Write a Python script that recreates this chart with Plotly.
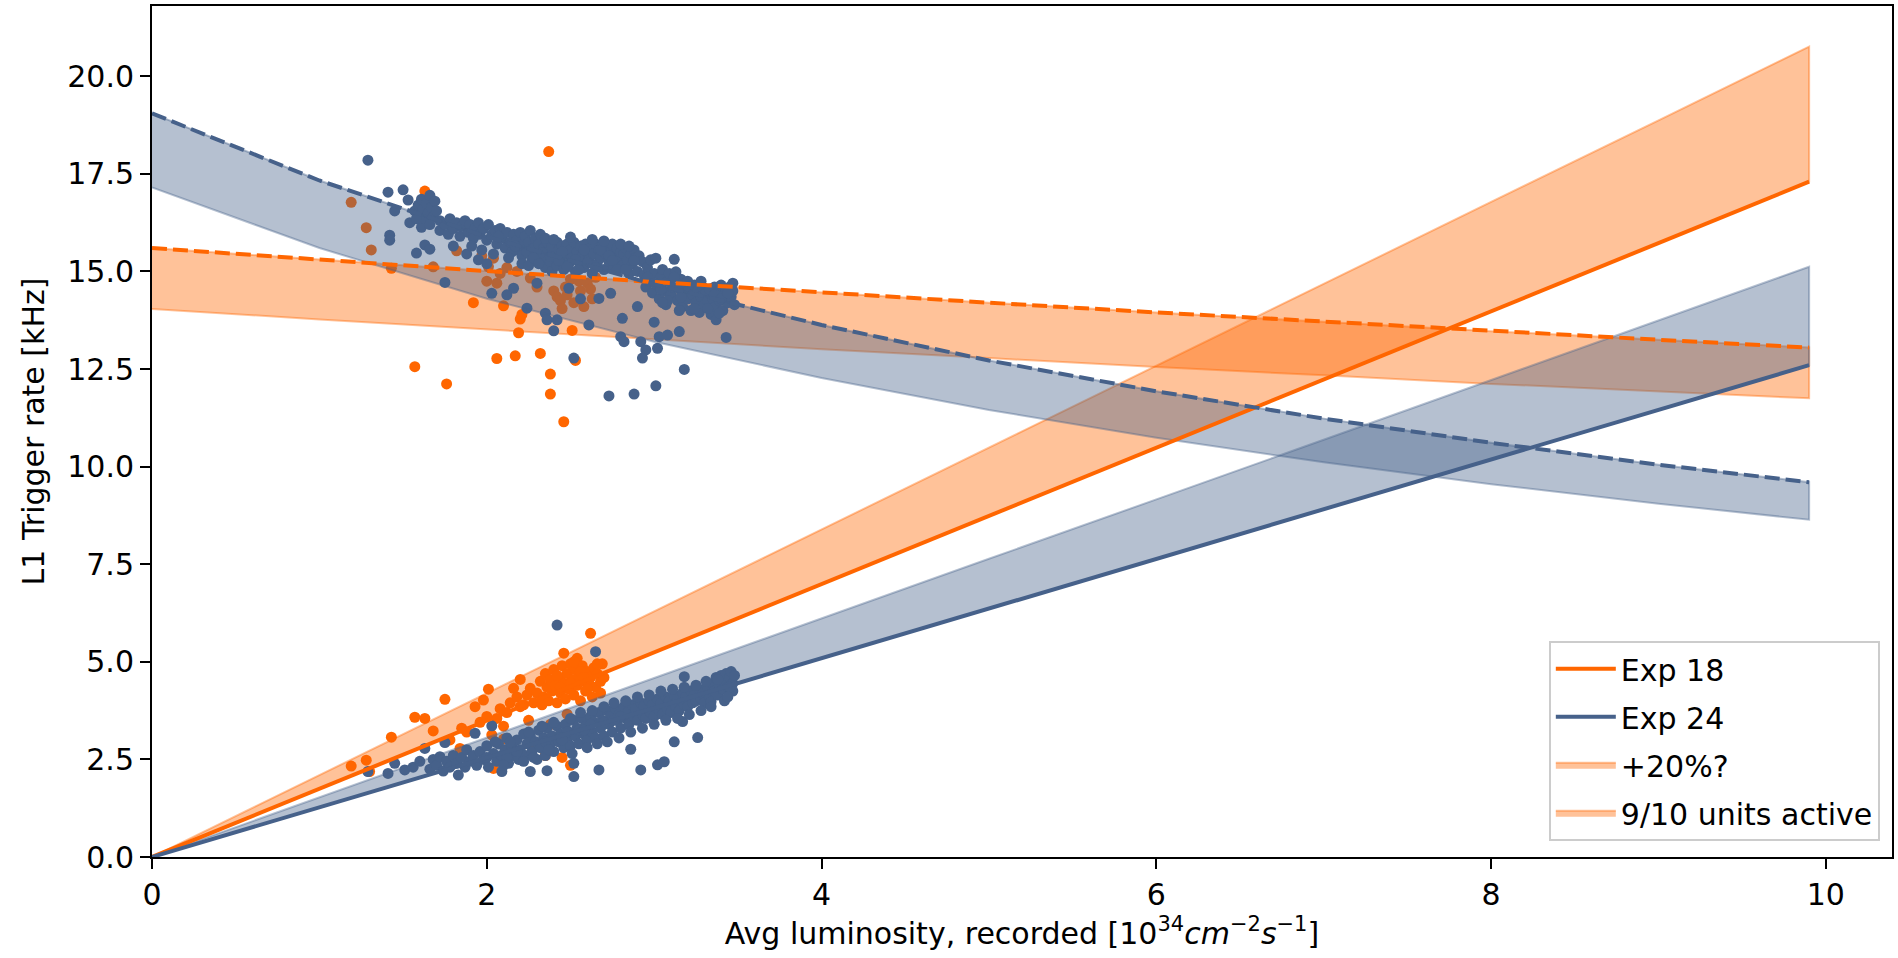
import plotly.graph_objects as go

# ---------------- data ----------------
ORANGE = "#FF6600"
BLUE = "#46618A"

# fitted curves (x in 1e34 cm^-2 s^-1, y in kHz)
fit_x = [0, 1, 2, 3, 4, 5, 6, 7, 8, 9, 9.9]
exp18_rate = [0, 1.75, 3.50, 5.24, 6.99, 8.74, 10.49, 12.23, 13.98, 15.73, 17.30]
exp18_rate_p20 = [0, 2.10, 4.19, 6.29, 8.39, 10.49, 12.58, 14.68, 16.78, 18.87, 20.76]
exp24_rate = [0, 1.27, 2.55, 3.82, 5.09, 6.36, 7.64, 8.91, 10.18, 11.45, 12.60]
exp24_rate_p20 = [0, 1.53, 3.05, 4.58, 6.11, 7.64, 9.16, 10.69, 12.22, 13.75, 15.12]
exp18_limit = [15.60, 15.30, 15.01, 14.73, 14.46, 14.20, 13.95, 13.71, 13.47, 13.25, 13.05]
exp18_limit_910 = [14.04, 13.77, 13.51, 13.26, 13.01, 12.78, 12.55, 12.34, 12.12, 11.92, 11.75]
exp24_limit = [19.05, 17.33, 15.89, 14.67, 13.63, 12.72, 11.93, 11.23, 10.61, 10.05, 9.60]
exp24_limit_910 = [17.15, 15.60, 14.30, 13.20, 12.27, 11.45, 10.74, 10.11, 9.55, 9.05, 8.64]

# measured runs, Exp 18 - upper (max rate) cloud
exp18_hi_x = [1.19, 1.28, 1.31, 1.43, 1.57, 1.63, 1.68, 1.76, 1.82, 1.92, 1.97, 2.01, 2.04, 2.00,
              2.06, 2.06, 2.08, 2.10, 2.12, 2.17, 2.18, 2.19, 2.20, 2.21, 2.26, 2.32, 2.37, 2.38,
              2.38, 2.40, 2.42, 2.44, 2.46, 2.47, 2.48, 2.50, 2.51, 2.52, 2.53, 2.55, 2.56, 2.60,
              2.62, 2.65, 2.58, 2.45, 2.30, 2.63]
exp18_hi_y = [16.77, 16.12, 15.55, 15.08, 12.56, 17.06, 15.12, 12.12, 15.53, 14.20, 15.40, 15.12, 15.34, 14.75,
              14.70, 12.77, 14.95, 14.12, 15.10, 12.84, 15.00, 13.43, 13.78, 13.90, 14.83, 12.90, 18.07, 12.37,
              11.86, 14.50, 14.35, 14.25, 11.15, 14.60, 14.40, 14.80, 13.49, 14.20, 12.72, 14.75, 14.50, 14.70,
              14.55, 14.85, 14.10, 14.05, 14.60, 14.30]

# Exp 18 - lower (measured L1 rate) cloud
exp18_lo_x = [1.19, 1.28, 1.30, 1.43, 1.57, 1.63, 1.68, 1.75, 1.78, 1.84, 1.85, 1.88, 1.93, 1.96, 1.98,
              2.00, 2.01, 2.03, 2.04, 2.06, 2.08, 2.10, 2.12, 2.14, 2.16, 2.18, 2.20, 2.20, 2.22, 2.24,
              2.26, 2.28, 2.30, 2.32, 2.33, 2.34, 2.35, 2.36, 2.37, 2.38, 2.39, 2.40, 2.41, 2.42, 2.43,
              2.44, 2.45, 2.46, 2.46, 2.47, 2.48, 2.48, 2.49, 2.50, 2.51, 2.52, 2.53, 2.54, 2.54, 2.55,
              2.56, 2.57, 2.58, 2.59, 2.60, 2.61, 2.62, 2.62, 2.63, 2.64, 2.65, 2.66, 2.68, 2.69, 2.70,
              2.28, 2.35, 2.45, 2.50, 2.10, 2.25, 2.38,
              2.42, 2.50, 2.56, 2.60, 2.66, 2.52, 2.44, 2.58, 2.68]
exp18_lo_y = [2.33, 2.48, 2.19, 3.07, 3.58, 3.55, 3.23, 4.04, 3.00, 2.78, 3.30, 3.20, 3.85, 3.45, 4.02,
              3.60, 4.30, 3.13, 2.27, 3.55, 3.80, 3.02, 3.70, 3.95, 4.32, 4.10, 4.55, 3.85, 3.90, 4.15,
              4.32, 3.95, 4.20, 4.50, 3.90, 4.10, 4.70, 4.35, 4.00, 4.55, 4.25, 4.80, 4.40, 3.95, 4.60,
              4.20, 4.90, 5.22, 4.45, 4.05, 4.70, 3.66, 4.30, 4.95, 4.55, 4.15, 4.80, 5.09, 4.40, 4.65,
              4.00, 4.90, 4.50, 4.25, 4.75, 4.45, 5.73, 4.60, 4.10, 4.85, 4.35, 4.70, 4.50, 4.95, 4.60,
              2.80, 2.60, 2.55, 2.35, 3.35, 3.50, 3.40,
              4.65, 4.45, 4.75, 4.30, 4.95, 5.00, 4.35, 4.60, 4.20]

# Exp 24 - upper cloud
exp24_hi_x = [1.29, 1.41, 1.50, 1.53, 1.45, 1.54, 1.42, 1.42, 1.58, 1.61, 1.63, 1.66, 1.75,
              1.57, 1.59, 1.60, 1.61, 1.62, 1.63, 1.64, 1.65, 1.66, 1.67, 1.68, 1.69, 1.70, 1.58, 1.66,
              1.72, 1.72, 1.75, 1.77, 1.78, 1.80, 1.82, 1.84, 1.85, 1.87, 1.89, 1.90, 1.92, 1.93, 1.95,
              1.96, 1.98, 2.00, 2.01, 2.03, 2.05, 2.06, 2.08, 2.09, 2.11, 2.12, 2.14, 2.15, 2.16,
              1.80, 1.88, 1.95, 2.03, 2.16, 2.00,
              2.18, 2.19, 2.20, 2.21, 2.22, 2.23, 2.24, 2.25, 2.26, 2.27, 2.28, 2.29, 2.30, 2.31, 2.32,
              2.34, 2.34, 2.35, 2.36, 2.37, 2.38, 2.39, 2.39, 2.41, 2.42, 2.42, 2.43, 2.44, 2.45, 2.46,
              2.47, 2.48, 2.49, 2.50, 2.51, 2.52, 2.53, 2.54, 2.55, 2.56, 2.57, 2.58, 2.59, 2.60, 2.61,
              2.62, 2.63, 2.64, 2.65, 2.66, 2.67, 2.68, 2.69, 2.70, 2.71, 2.72, 2.73, 2.74, 2.75, 2.76,
              2.77, 2.78, 2.79, 2.80, 2.81, 2.82, 2.83, 2.84, 2.85, 2.86, 2.87, 2.88, 2.89, 2.90, 2.91,
              2.93, 2.94, 2.95, 2.96, 2.97, 2.98, 2.99, 3.00, 3.01, 3.02, 3.03, 3.04, 3.05, 3.06, 3.07,
              3.08, 3.09, 3.10, 3.11, 3.12, 3.13, 3.14, 3.15, 3.16, 3.17, 3.18, 3.19, 3.20, 3.21, 3.22,
              3.23, 3.24, 3.25, 3.26, 3.27, 3.28, 3.29, 3.30, 3.31, 3.32, 3.33, 3.34, 3.35, 3.36, 3.37,
              3.38, 3.39, 3.40, 3.41, 3.42, 3.43, 3.44, 3.45, 3.46, 3.47, 3.48, 3.37, 3.39, 3.43,
              2.24, 2.35, 2.36, 2.42, 2.40, 2.49, 2.52, 2.61, 2.67, 2.74, 2.81, 2.80, 2.82, 2.92, 2.95,
              2.93, 3.02, 3.03, 3.08, 3.15, 3.18, 3.01, 2.73, 2.88, 2.12, 2.30, 2.56, 2.90, 3.00,
              2.33, 2.35, 2.38, 2.40, 2.43, 2.45, 2.48, 2.50, 2.53, 2.55, 2.58, 2.60, 2.63, 2.65, 2.68,
              2.70, 2.73, 2.75, 2.78, 2.80, 2.83, 2.85, 2.88,
              1.91, 1.97, 2.04, 2.07, 2.13, 2.17, 2.21, 2.25, 2.28, 2.31,
              2.96, 3.00, 3.04, 3.08, 3.12, 3.16, 3.20, 3.24, 3.28, 3.32, 3.36, 3.40, 3.44, 3.47, 3.05, 3.15]
exp24_hi_y = [17.85, 17.03, 17.09, 16.83, 16.55, 16.25, 15.93, 15.80, 15.47, 16.13, 15.68, 15.57, 14.72,
              16.55, 16.70, 16.45, 16.85, 16.60, 16.35, 16.75, 16.50, 16.95, 16.65, 16.40, 16.80, 16.55, 16.35, 16.20,
              16.30, 16.05, 16.20, 15.95, 16.35, 16.10, 16.25, 15.90, 16.15, 16.30, 16.00, 16.20, 15.85, 16.10, 16.25,
              15.95, 16.10, 15.80, 16.20, 15.95, 16.05, 15.70, 16.10, 15.85, 15.60, 16.00, 15.75, 15.50, 15.95,
              15.65, 15.45, 15.30, 14.44, 14.57, 15.20,
              15.80, 15.55, 16.00, 15.40, 15.70, 15.90, 15.50, 15.75, 16.05, 15.30, 15.60, 15.85, 15.45, 15.70, 15.95,
              15.60, 15.35, 15.10, 15.75, 15.50, 15.25, 15.00, 15.65, 15.40, 15.75, 15.15, 15.55, 15.30, 15.65, 15.05,
              15.45, 15.70, 15.20, 15.55, 15.35, 15.75, 15.00, 15.50, 15.25, 15.65, 15.40, 15.10, 15.70, 15.50, 15.30,
              15.60, 14.95, 15.45, 15.70, 15.20, 15.55, 15.35, 15.65, 15.05, 15.45, 15.60, 15.25, 15.50, 15.70, 15.10,
              15.40, 15.60, 15.30, 15.50, 15.15, 15.45, 15.60, 15.30, 14.95, 15.45, 15.20, 15.55, 15.35, 15.00, 15.40,
              15.25, 14.90, 14.60, 15.10, 14.75, 15.30, 14.45, 14.95, 15.34, 14.65, 14.30, 14.85, 15.05, 14.50, 14.15,
              14.75, 14.95, 14.40, 14.60, 15.31, 14.99, 14.25, 14.55, 14.80, 14.10, 14.45, 14.70, 14.30, 14.55, 14.00,
              14.40, 14.65, 14.20, 14.50, 13.95, 14.35, 14.60, 14.15, 14.45, 14.25, 14.55, 13.90, 14.30, 14.60, 14.10,
              14.45, 14.25, 14.65, 14.00, 14.40, 14.55, 14.20, 14.60, 14.35, 14.50, 14.15, 13.76, 13.93, 13.31,
              14.06, 13.93, 13.76, 13.76, 13.48, 14.57, 12.78, 13.63, 14.31, 14.44, 13.80, 13.33, 13.20, 13.20, 12.99,
              12.78, 13.03, 13.33, 13.37, 13.46, 12.49, 12.07, 11.81, 11.86, 14.40, 14.70, 14.30, 14.10, 13.70,
              15.48, 15.85, 15.38, 15.82, 15.28, 15.50, 15.12, 15.88, 15.30, 15.05, 15.55, 15.22, 15.82, 15.10, 15.55,
              15.78, 15.40, 15.28, 15.05, 15.70, 15.05, 15.65, 15.28,
              15.65, 15.55, 15.45, 15.90, 15.35, 15.65, 15.20, 15.15, 15.35, 15.20,
              14.85, 14.70, 14.55, 14.25, 14.85, 14.35, 14.75, 14.05, 14.75, 14.05, 14.40, 14.30, 14.45, 14.70, 14.20, 14.00]

# Exp 24 - lower cloud
exp24_lo_x = [1.29, 1.41, 1.45, 1.51, 1.56, 1.60, 1.63, 1.66, 1.68, 1.70, 1.72, 1.74, 1.75, 1.76, 1.78,
              1.80, 1.82, 1.83, 1.85, 1.87, 1.88, 1.90, 1.92, 1.93, 1.94, 1.96, 1.98, 2.00, 2.01, 2.03,
              2.04, 2.06, 2.07, 2.09, 2.09, 2.11, 2.12, 2.13, 2.15, 2.16, 2.18, 2.19, 2.20, 2.22, 2.23,
              2.24, 2.26, 2.26, 2.27, 2.29, 2.30, 2.31, 2.32, 2.34, 2.35, 2.36, 2.36, 2.38, 2.39, 2.40,
              2.42, 2.42, 2.43, 2.44, 2.46, 2.47, 2.48, 2.49, 2.50, 2.52, 2.52, 2.52, 2.53, 2.54, 2.55,
              2.57, 2.58, 2.59, 2.60, 2.62, 2.63, 2.64, 2.65, 2.65, 2.67, 2.67, 2.68, 2.69, 2.70, 2.72,
              2.73, 2.74, 2.75, 2.77, 2.78, 2.79, 2.80, 2.82, 2.83, 2.84, 2.85, 2.86, 2.87, 2.88, 2.89,
              2.90, 2.92, 2.92, 2.93, 2.94, 2.95, 2.97, 2.98, 2.99, 3.00, 3.02, 3.02, 3.03, 3.04, 3.05,
              3.06, 3.07, 3.08, 3.09, 3.10, 3.12, 3.12, 3.13, 3.14, 3.15, 3.17, 3.17, 3.18, 3.18, 3.19,
              3.20, 3.22, 3.23, 3.24, 3.25, 3.26, 3.27, 3.28, 3.29, 3.30, 3.32, 3.33, 3.34, 3.35, 3.36,
              3.37, 3.38, 3.39, 3.40, 3.41, 3.42, 3.43, 3.44, 3.45, 3.46, 3.47, 3.48, 3.47,
              2.55, 2.70, 2.35, 2.48, 2.62, 2.80, 2.12, 2.44, 2.58, 2.76,
              2.00, 2.05, 2.10, 2.14, 2.18, 2.22, 2.25, 2.28, 2.33, 2.37, 2.40, 2.45, 2.50, 2.51, 2.56,
              2.60, 2.63, 2.66, 2.70, 2.72, 2.76, 2.79, 2.83, 2.86, 2.90, 2.93, 2.97, 3.00, 3.04, 3.07,
              3.11, 3.14, 3.18, 3.21, 3.25, 3.28, 3.31, 3.34, 3.38, 3.42, 3.45, 3.44]
exp24_lo_y = [2.19, 2.14, 2.40, 2.23, 2.30, 2.45, 2.78, 2.25, 2.50, 2.35, 2.57, 2.20, 2.93, 2.45, 2.30,
              2.60, 2.40, 2.10, 2.55, 2.30, 2.75, 2.45, 2.60, 3.17, 2.35, 2.70, 2.50, 2.85, 2.30, 3.36,
              2.65, 2.45, 2.90, 2.19, 2.60, 2.75, 3.05, 2.40, 2.85, 2.60, 3.00, 2.50, 2.75, 3.15, 2.60,
              2.90, 2.19, 3.10, 2.70, 2.95, 2.50, 3.25, 2.80, 3.05, 2.60, 2.21, 3.30, 2.90, 3.10, 2.70,
              3.35, 5.94, 2.95, 3.15, 2.80, 3.40, 3.00, 3.20, 2.85, 2.06, 2.40, 3.50, 3.10, 3.30, 2.90,
              3.55, 3.15, 3.35, 3.00, 3.60, 3.20, 3.45, 5.26, 3.05, 2.23, 3.70, 3.30, 3.50, 3.10, 3.75,
              3.40, 3.60, 3.20, 3.80, 3.50, 3.65, 3.30, 3.85, 3.55, 3.70, 3.40, 2.76, 3.90, 3.60, 3.80,
              3.50, 2.23, 3.95, 3.65, 3.85, 3.55, 4.00, 3.70, 3.90, 3.60, 2.36, 4.05, 3.75, 3.95, 3.65,
              2.44, 4.10, 3.80, 4.00, 3.70, 2.95, 4.15, 3.85, 4.05, 3.75, 3.47, 4.20, 4.62, 3.90, 4.10,
              3.85, 4.25, 3.95, 4.15, 4.00, 3.06, 4.30, 4.05, 4.20, 3.95, 4.35, 4.10, 3.98, 4.45, 4.25,
              4.60, 4.15, 4.40, 4.65, 4.30, 4.50, 4.70, 4.35, 4.60, 4.75, 4.45, 4.65, 4.25,
              3.25, 3.45, 2.95, 3.20, 3.40, 3.60, 2.55, 3.05, 3.25, 3.50,
              2.55, 2.95, 2.35, 2.95, 2.70, 2.45, 3.20, 2.55, 3.35, 2.75, 3.45, 3.00, 3.55, 2.65, 3.70,
              2.80, 3.75, 2.90, 3.85, 2.95, 3.95, 3.05, 4.00, 3.20, 4.10, 3.30, 4.15, 3.40, 4.25, 3.50,
              4.30, 3.55, 4.35, 3.65, 4.40, 3.75, 4.50, 3.85, 4.55, 4.00, 4.35, 4.10]

# ---------------- figure ----------------
FONT = "DejaVu Sans"
FS = 30


def rgba(hex_color, a):
    h = hex_color.lstrip("#")
    r, g, b = int(h[0:2], 16), int(h[2:4], 16), int(h[4:6], 16)
    return f"rgba({r},{g},{b},{a})"


def band(lower, upper, color, name, show, rank):
    return go.Scatter(
        x=fit_x + fit_x[::-1],
        y=upper + lower[::-1],
        mode="lines",
        fill="toself",
        fillcolor=rgba(color, 0.4),
        line=dict(color=rgba(color, 0.4), width=2),
        name=name,
        showlegend=show,
        legendgroup=name if show else None,
        legendrank=rank,
        hoverinfo="skip",
    )


def dots(x, y, color):
    return go.Scatter(
        x=x, y=y, mode="markers",
        marker=dict(color=color, size=11, line=dict(width=0)),
        showlegend=False,
    )


fig = go.Figure()

# Exp 18 measurements + bands
fig.add_trace(dots(exp18_hi_x, exp18_hi_y, ORANGE))
fig.add_trace(dots(exp18_lo_x, exp18_lo_y, ORANGE))
fig.add_trace(band(exp18_rate, exp18_rate_p20, ORANGE, "+20%?", True, 3))
fig.add_trace(band(exp18_limit_910, exp18_limit, ORANGE, "9/10 units active", True, 4))

# Exp 24 measurements + bands
fig.add_trace(dots(exp24_hi_x, exp24_hi_y, BLUE))
fig.add_trace(dots(exp24_lo_x, exp24_lo_y, BLUE))
fig.add_trace(band(exp24_rate, exp24_rate_p20, BLUE, "+20% (Exp 24)", False, 10))
fig.add_trace(band(exp24_limit_910, exp24_limit, BLUE, "9/10 (Exp 24)", False, 11))

# fitted lines
fig.add_trace(go.Scatter(x=fit_x, y=exp18_rate, mode="lines", name="Exp 18",
                         line=dict(color=ORANGE, width=4), legendgroup="Exp 18", legendrank=1))
fig.add_trace(go.Scatter(x=fit_x, y=exp18_limit, mode="lines", showlegend=False,
                         line=dict(color=ORANGE, width=4, dash="15px,6px")))
fig.add_trace(go.Scatter(x=fit_x, y=exp24_rate, mode="lines", name="Exp 24",
                         line=dict(color=BLUE, width=4), legendgroup="Exp 24", legendrank=2))
fig.add_trace(go.Scatter(x=fit_x, y=exp24_limit, mode="lines", showlegend=False,
                         line=dict(color=BLUE, width=4, dash="15px,6px")))

axis_common = dict(
    showline=True, linecolor="black", linewidth=2, mirror=True,
    ticks="outside", ticklen=10, tickwidth=2, tickcolor="black",
    showgrid=False, zeroline=False,
    tickfont=dict(family=FONT, size=FS, color="black"),
    automargin=False,
)

fig.update_layout(
    width=1898, height=958,
    margin=dict(l=152, r=6, t=6, b=101),
    paper_bgcolor="white", plot_bgcolor="white",
    font=dict(family=FONT, size=FS, color="black"),
    xaxis=dict(
        range=[0, 10.395], tickvals=[0, 2, 4, 6, 8, 10],
        title=dict(text="Avg luminosity, recorded [10<sup>34</sup><i>cm</i><sup>−2</sup><i>s</i><sup>−1</sup>]",
                   font=dict(family=FONT, size=FS, color="black"), standoff=12),
        **axis_common,
    ),
    yaxis=dict(
        range=[0, 21.8], tickvals=[0, 2.5, 5, 7.5, 10, 12.5, 15, 17.5, 20], tickformat=".1f",
        title=dict(text="L1 Trigger rate [kHz]", font=dict(family=FONT, size=FS, color="black"), standoff=14),
        **axis_common,
    ),
    legend=dict(
        x=0.993, y=0.019, xanchor="right", yanchor="bottom",
        bgcolor="rgba(255,255,255,0.8)", bordercolor="#CCCCCC", borderwidth=2,
        font=dict(family=FONT, size=FS, color="black"),
        traceorder="grouped", tracegroupgap=6, itemwidth=60,
    ),
    showlegend=True,
)

fig.write_html("out.html")
